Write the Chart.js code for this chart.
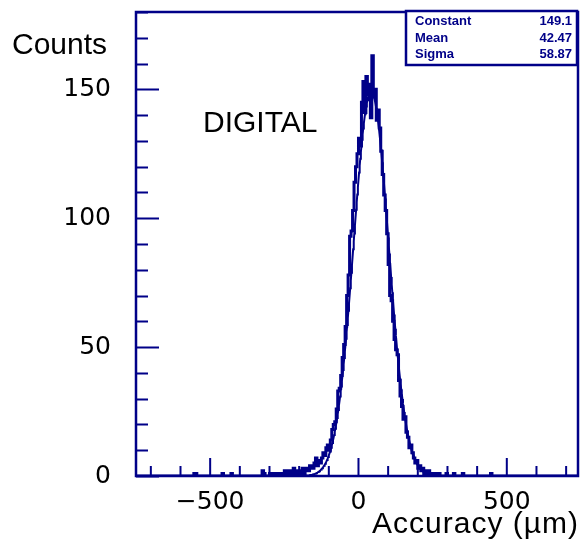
<!DOCTYPE html>
<html>
<head>
<meta charset="utf-8">
<title>Accuracy</title>
<script src="https://cdn.jsdelivr.net/npm/chart.js@4.4.1/dist/chart.umd.min.js"></script>
<style>
  body { margin: 0; background: #fff; }
  canvas { display: block; }
</style>
</head>
<body>
<canvas id="histo" width="581" height="545"></canvas>
<script>
// histogram binning (µm)
const xLow = -750;
const xHigh = 740;
const binWidth = 5;

// contiguous part of the distribution, first bin starts at peakStart
const peakStart = -250;
const peakCounts = [
  1, 2, 1, 0, 2, 1, 1, 3, 2, 1,
  2, 1, 2, 3, 1, 2, 3, 2, 4, 3,
  3, 5, 7, 4, 6, 5, 7, 9, 8, 11,
  12, 10, 14, 18, 20, 21, 26, 33, 34, 39,
  46, 51, 58, 70, 78, 93, 95, 103, 114, 120,
  125, 131, 128, 145, 153, 141, 155, 148, 152, 139,
  163, 147, 150, 138, 142, 135, 126, 117, 109, 103,
  94, 82, 70, 68, 60, 53, 49, 47, 37, 31,
  27, 22, 23, 17, 15, 11, 12, 9, 7, 5,
  6, 3, 4, 2, 3, 1, 2, 1, 2, 1,
  1, 0, 1, 1, 0, 1
];

// isolated entries out in the tails (bin centres)
const strayCentres = [-547.5, -542.5, -452.5, -422.5, -317.5, -312.5, -292.5, -282.5, -272.5, -262.5, 302.5, 327.5, 357.5, 452.5];
const strayCounts = [1, 1, 1, 1, 2, 1, 1, 1, 1, 1, 1, 1, 1, 1];

// gaussian fit
const fitConstant = 149.1;
const fitMean = 42.47;
const fitSigma = 58.87;

// axis labels
const xLabelValues = [-500, 0, 500];
const yLabelValues = [0, 50, 100, 150];

const navy = '#000088';

const nBins = Math.round((xHigh - xLow) / binWidth);
const binContent = new Array(nBins).fill(0);
const firstPeakBin = Math.round((peakStart - xLow) / binWidth);
peakCounts.forEach((c, i) => { binContent[firstPeakBin + i] = c; });
strayCentres.forEach((x, i) => { binContent[Math.floor((x - xLow) / binWidth)] = strayCounts[i]; });

// one point per bin low edge, drawn as steps
const histPoints = binContent.map((c, i) => ({ x: xLow + i * binWidth, y: c }));
histPoints.push({ x: xHigh, y: 0 });

const fitPoints = [];
for (let x = xLow; x <= xHigh; x += 2) {
  fitPoints.push({ x: x, y: fitConstant * Math.exp(-0.5 * Math.pow((x - fitMean) / fitSigma, 2)) });
}

// frame with inward ticks, like the usual physics plots
const framePlugin = {
  id: 'frame',
  afterDatasetsDraw(chart) {
    const ctx = chart.ctx;
    const { left, right, top, bottom } = chart.chartArea;
    const xs = chart.scales.x, ys = chart.scales.y;
    ctx.save();
    ctx.strokeStyle = navy;
    ctx.lineWidth = 2;
    ctx.beginPath();
    for (let v = 0; v <= 180; v += 10) {
      const y = Math.round(ys.getPixelForValue(v)) + 0.5;
      const len = v % 50 === 0 ? 23 : 12;
      ctx.moveTo(left, y);
      ctx.lineTo(left + len, y);
    }
    for (let v = -700; v <= 700; v += 100) {
      const x = xs.getPixelForValue(v);
      const len = v % 500 === 0 ? 18 : 10;
      ctx.moveTo(x, bottom);
      ctx.lineTo(x, bottom - len);
    }
    ctx.stroke();
    ctx.lineWidth = 2.5;
    ctx.strokeRect(left, top, right - left, bottom - top);
    ctx.restore();
  },
  afterDraw(chart) {
    const ctx = chart.ctx;
    ctx.save();
    ctx.fillStyle = '#000';
    ctx.textBaseline = 'alphabetic';
    ctx.font = '30px "Liberation Sans", Arial, sans-serif';
    ctx.textAlign = 'left';
    ctx.fillText('Counts', 12, 54);
    ctx.fillText('DIGITAL', 203, 132);
    ctx.textAlign = 'right';
    ctx.letterSpacing = '1px';
    ctx.fillText('Accuracy (\u00b5m)', 579, 533);
    ctx.letterSpacing = '0px';

    // fit statistics box
    ctx.fillStyle = '#fff';
    ctx.fillRect(406, 11, 171, 54);
    ctx.strokeStyle = navy;
    ctx.lineWidth = 2.5;
    ctx.strokeRect(406, 11, 171, 54);
    ctx.fillStyle = navy;
    ctx.font = 'bold 13px "Liberation Sans", Arial, sans-serif';
    const names = ['Constant', 'Mean', 'Sigma'];
    const vals = [fitConstant.toFixed(1), fitMean.toFixed(2), fitSigma.toFixed(2)];
    names.forEach((n, i) => {
      const y = 25 + i * 16.5;
      ctx.textAlign = 'left';
      ctx.fillText(n, 415, y);
      ctx.textAlign = 'right';
      ctx.fillText(vals[i], 572, y);
    });
    ctx.restore();
  }
};

const tickFont = { family: 'DejaVu Sans', size: 25 };

new Chart(document.getElementById('histo'), {
  type: 'line',
  data: {
    datasets: [
      { data: histPoints, stepped: 'after', borderColor: navy, borderWidth: 3, pointRadius: 0, fill: false },
      { data: fitPoints, borderColor: navy, borderWidth: 2, pointRadius: 0, tension: 0, fill: false }
    ]
  },
  options: {
    responsive: false,
    animation: false,
    devicePixelRatio: 1,
    layout: { padding: { top: 12, right: 3, left: 0, bottom: 0 } },
    plugins: { legend: { display: false }, tooltip: { enabled: false } },
    scales: {
      x: {
        type: 'linear',
        min: xLow,
        max: xHigh,
        grid: { display: false },
        border: { display: false },
        afterBuildTicks: s => { s.ticks = xLabelValues.map(v => ({ value: v })); },
        afterFit: s => { s.height = 69; s.paddingLeft = 0; s.paddingRight = 0; },
        ticks: {
          autoSkip: false,
          maxRotation: 0,
          padding: 3,
          color: '#000',
          font: tickFont,
          callback: v => String(v).replace('-', '\u2212')
        }
      },
      y: {
        min: 0,
        max: 180,
        grid: { display: false },
        border: { display: false },
        afterBuildTicks: s => { s.ticks = yLabelValues.map(v => ({ value: v })); },
        afterFit: s => { s.width = 136; s.paddingTop = 0; s.paddingBottom = 0; },
        ticks: {
          autoSkip: false,
          padding: 17,
          color: '#000',
          font: tickFont
        }
      }
    }
  },
  plugins: [framePlugin]
});
</script>
</body>
</html>
